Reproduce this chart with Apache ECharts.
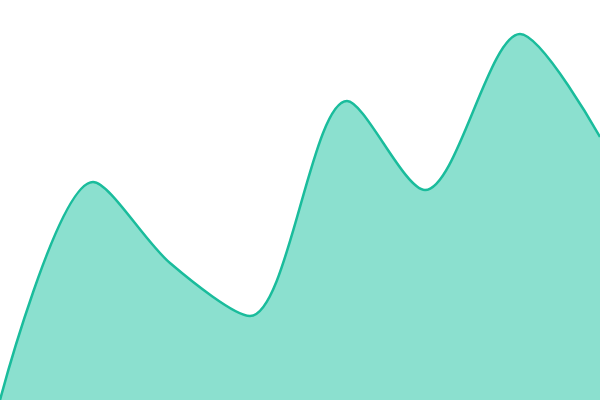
<!DOCTYPE html>
<html>
<head>
<meta charset="utf-8">
<script src="https://cdn.jsdelivr.net/npm/echarts@6/dist/echarts.min.js"></script>
<style>
    html, body { margin: 0; padding: 0; background: #fff; }
    #chart { width: 600px; height: 400px; }
</style>
</head>
<body>
<div id="chart"></div>
<script>
    // positions and heights
    var xs = [0, 93, 170, 250, 347, 425, 520, 600];
    var values = [0, 218, 137, 84, 299, 210, 366, 263];

    var chart = echarts.init(document.getElementById('chart'));
    chart.setOption({
        animation: false,
        grid: { left: 0, right: 0, top: 0, bottom: 0 },
        xAxis: {
            type: 'value',
            min: 0,
            max: 600,
            show: false
        },
        yAxis: {
            type: 'value',
            min: 0,
            max: 400,
            show: false
        },
        series: [{
            type: 'line',
            data: xs.map(function (x, i) { return [x, values[i]]; }),
            smooth: 0.3,
            symbol: 'none',
            lineStyle: { color: '#1abc9c', width: 2.5 },
            areaStyle: { color: '#8be0cf', opacity: 1 }
        }]
    });
</script>
</body>
</html>
